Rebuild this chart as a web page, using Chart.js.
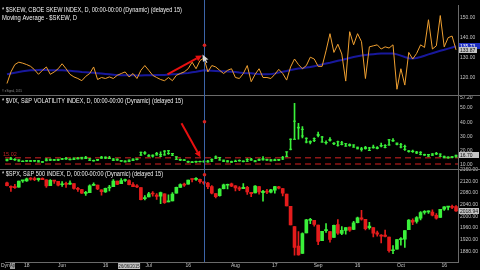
<!DOCTYPE html>
<html><head><meta charset="utf-8">
<script src="https://cdn.jsdelivr.net/npm/chart.js@4.4.1/dist/chart.umd.min.js"></script>
<style>html,body{margin:0;padding:0;background:#000;overflow:hidden}canvas{display:block}</style>
</head><body>
<canvas id="c" width="480" height="270"></canvas>
<script>
const dates = ['11/05/2015','12/05/2015','13/05/2015','14/05/2015','15/05/2015','18/05/2015','19/05/2015','20/05/2015','21/05/2015','22/05/2015','26/05/2015','27/05/2015','28/05/2015','29/05/2015',
'01/06/2015','02/06/2015','03/06/2015','04/06/2015','05/06/2015','08/06/2015','09/06/2015','10/06/2015','11/06/2015','12/06/2015','15/06/2015','16/06/2015','17/06/2015','18/06/2015','19/06/2015','22/06/2015','23/06/2015','24/06/2015','25/06/2015','26/06/2015','29/06/2015','30/06/2015',
'01/07/2015','02/07/2015','06/07/2015','07/07/2015','08/07/2015','09/07/2015','10/07/2015','13/07/2015','14/07/2015','15/07/2015','16/07/2015','17/07/2015','20/07/2015','21/07/2015','22/07/2015','23/07/2015','24/07/2015','27/07/2015','28/07/2015','29/07/2015','30/07/2015','31/07/2015',
'03/08/2015','04/08/2015','05/08/2015','06/08/2015','07/08/2015','10/08/2015','11/08/2015','12/08/2015','13/08/2015','14/08/2015','17/08/2015','18/08/2015','19/08/2015','20/08/2015','21/08/2015','24/08/2015','25/08/2015','26/08/2015','27/08/2015','28/08/2015','31/08/2015',
'01/09/2015','02/09/2015','03/09/2015','04/09/2015','08/09/2015','09/09/2015','10/09/2015','11/09/2015','14/09/2015','15/09/2015','16/09/2015','17/09/2015','18/09/2015','21/09/2015','22/09/2015','23/09/2015','24/09/2015','25/09/2015','28/09/2015','29/09/2015','30/09/2015',
'01/10/2015','02/10/2015','05/10/2015','06/10/2015','07/10/2015','08/10/2015','09/10/2015','12/10/2015','13/10/2015','14/10/2015','15/10/2015','16/10/2015','19/10/2015','20/10/2015','21/10/2015'];

const xTickDates = ['18/05/2015','01/06/2015','16/06/2015','01/07/2015','16/07/2015','03/08/2015','17/08/2015','01/09/2015','16/09/2015','01/10/2015','16/10/2015'];
const xTickNames = ['18','Jun','16','Jul','16','Aug','17','Sep','16','Oct','16'];

const skew = [117.0,122.8,126.5,127.7,127.2,126.5,125.6,123.9,121.6,123.6,
125.3,121.6,122.8,124.4,126.9,124.4,121.6,120.3,119.5,118.4,
120.6,122.0,125.3,119.0,120.0,119.5,120.3,119.5,121.1,122.0,
122.8,120.3,122.0,119.5,123.6,126.0,123.6,121.1,120.0,119.0,
118.4,120.0,118.4,121.1,122.0,122.8,124.4,127.7,124.4,128.5,
129.8,122.8,126.0,125.3,123.6,122.0,123.6,124.4,120.0,119.5,
122.0,126.0,117.9,121.6,124.4,120.0,120.0,119.5,121.6,124.1,
122.0,118.7,125.3,129.3,126.5,124.4,126.0,130.2,129.3,125.6,
125.6,133.4,142.0,132.6,136.7,131.8,118.2,143.0,136.4,142.0,
138.0,119.5,135.4,135.9,136.4,134.3,135.4,134.8,136.4,114.1,
124.4,116.2,132.6,129.3,132.1,136.4,135.1,149.0,134.3,135.9,
151.1,135.4,140.0,140.8,133.87];

const skewMA = [121.6,122.0,122.4,122.8,123.1,123.4,123.6,123.7,123.8,123.9,
123.8,123.7,123.6,123.6,123.6,123.5,123.4,123.2,123.0,122.8,
122.7,122.5,122.4,122.2,122.0,121.8,121.6,121.4,121.2,121.1,
121.1,121.1,121.1,121.0,121.0,121.1,121.1,121.1,121.2,121.2,
121.3,121.5,121.6,121.7,121.9,122.1,122.3,122.6,122.9,123.3,
123.6,123.5,123.4,123.3,123.2,123.1,123.0,122.9,122.8,122.5,
122.3,122.2,122.1,121.9,121.7,121.6,121.6,121.7,122.0,122.5,
122.9,123.3,123.8,124.2,124.5,124.7,125.0,125.3,125.7,126.1,
126.6,127.0,127.4,127.9,128.4,128.8,129.3,129.8,130.3,130.7,
131.0,131.3,131.5,131.7,131.9,132.0,132.1,132.1,132.1,131.6,
131.0,130.3,129.7,129.5,129.8,130.3,130.9,131.6,132.2,132.8,
133.4,133.9,134.5,135.1,135.73];

const vixOpen = [13.0,14.3,13.6,13.5,12.6,12.9,12.6,12.8,12.9,12.0,
13.0,13.9,13.6,13.3,14.2,14.4,14.0,13.8,14.6,14.3,
15.3,14.3,13.1,13.3,14.8,15.4,14.7,14.1,13.4,12.9,
12.7,12.3,13.1,14.0,16.9,18.5,16.7,16.2,18.0,17.3,
17.0,18.0,18.0,15.7,13.8,13.5,12.4,11.9,12.2,12.4,
12.6,12.1,12.7,14.7,15.2,13.3,12.8,12.0,12.4,12.9,
12.6,12.6,14.0,12.9,13.3,14.3,13.6,13.6,13.6,13.3,
14.2,16.0,21.0,28.0,36.4,35.0,28.7,26.3,27.1,30.6,
29.6,25.7,27.3,25.2,23.8,25.5,24.9,23.6,24.0,22.4,
21.1,21.5,21.9,22.1,21.6,23.4,22.3,24.0,27.2,25.3,
24.2,22.9,19.8,19.6,19.0,18.8,17.1,17.3,16.8,17.7,
17.6,16.0,15.5,15.3,15.7];
const vixHigh = [14.0,15.4,14.4,13.6,12.9,13.1,13.1,13.2,13.0,12.4,
14.4,14.0,13.9,14.1,14.6,15.3,14.2,14.9,15.4,15.3,
16.0,14.4,13.4,13.8,16.0,15.6,16.0,14.4,14.2,13.0,
12.8,13.5,14.2,14.2,19.0,19.4,17.2,17.0,18.8,19.2,
20.0,20.0,18.1,15.7,14.0,13.8,12.6,12.3,12.6,12.7,
12.9,13.2,14.2,16.3,15.3,13.4,13.0,12.6,13.4,13.5,
12.8,14.4,14.6,13.0,14.2,15.8,14.0,13.8,14.1,13.8,
16.0,19.2,28.4,53.3,39.3,37.0,29.1,26.9,29.1,33.0,
30.0,26.9,29.2,25.7,26.8,26.6,25.0,24.8,24.1,22.5,
22.3,23.1,22.3,24.0,22.9,25.3,24.2,27.9,28.5,25.4,
25.2,24.0,20.1,20.4,19.5,19.4,17.6,17.4,18.0,18.9,
17.8,16.2,15.6,15.8,16.9];
const vixLow = [12.8,13.6,13.1,12.6,12.2,12.5,12.4,12.4,12.1,11.8,
12.8,13.0,13.2,13.0,13.7,13.9,13.5,13.7,14.2,14.2,
14.4,13.2,12.6,13.0,14.6,14.3,14.4,13.0,13.2,12.5,
12.1,12.2,13.0,13.5,16.6,17.4,15.9,15.5,16.8,15.8,
16.8,17.3,16.5,13.8,13.0,12.9,11.8,11.6,11.8,12.0,
11.9,11.9,12.3,14.3,13.3,12.3,12.1,11.8,12.3,12.6,
12.0,12.5,13.2,12.2,13.0,13.4,13.1,12.8,12.9,13.0,
13.7,15.8,20.6,28.0,28.0,28.9,25.4,24.8,26.3,29.6,
25.9,24.5,26.6,24.3,23.2,24.1,23.1,23.2,22.4,21.2,
19.7,21.1,20.0,21.8,21.3,22.6,21.9,23.9,26.5,24.0,
21.9,20.2,18.9,18.7,17.9,17.0,16.7,16.0,16.6,17.2,
15.9,14.9,14.8,14.9,15.4];
const vixClose = [13.85,13.86,13.76,12.74,12.38,12.73,12.85,12.88,12.11,12.13,
14.06,13.27,13.31,13.84,14.06,14.24,13.66,14.71,14.21,15.29,
14.47,13.22,12.85,13.78,15.39,14.81,14.50,13.19,13.96,12.74,
12.11,13.26,14.01,14.02,18.85,18.23,16.09,16.79,17.01,16.09,
19.66,19.97,16.83,13.90,13.37,13.23,11.95,11.95,12.25,12.22,
12.12,12.64,13.74,15.60,13.44,12.50,12.13,12.12,12.56,13.00,
12.51,13.77,13.39,12.23,13.71,13.61,13.49,12.83,13.02,13.79,
15.25,19.14,28.03,40.74,36.02,30.32,26.10,26.05,28.43,31.40,
26.09,25.61,27.80,24.90,26.23,24.37,23.20,24.25,22.54,21.35,
21.14,22.28,20.14,22.44,22.13,23.47,23.62,27.63,26.83,24.50,
22.55,20.94,19.54,19.40,18.40,17.42,17.08,16.17,17.67,18.03,
16.05,15.05,14.98,15.75,16.70];
const vixLevels = [15.02, 10.6];

const spxOpen = [2115.0,2102.9,2099.6,2100.4,2122.1,2121.3,2129.5,2127.8,2125.6,2130.4,
2125.3,2105.1,2122.3,2120.7,2108.6,2110.4,2110.6,2112.4,2095.1,2092.3,
2079.1,2081.1,2106.2,2107.4,2091.3,2084.3,2097.4,2101.6,2121.1,2112.5,
2123.2,2123.2,2109.1,2102.6,2098.6,2061.2,2067.0,2078.0,2073.0,2069.5,
2077.7,2049.7,2052.7,2080.0,2099.7,2109.0,2110.6,2126.8,2126.9,2127.6,
2118.2,2114.2,2102.2,2078.2,2070.8,2094.7,2106.8,2111.6,2104.5,2097.7,
2095.3,2100.0,2082.6,2080.9,2102.7,2081.1,2086.2,2083.2,2089.7,2101.5,
2095.7,2076.6,2034.1,1965.2,1898.1,1872.8,1942.8,1986.1,1986.7,1970.1,
1916.5,1950.8,1947.8,1927.3,1971.5,1941.6,1951.5,1963.1,1955.1,1978.0,
1995.3,1989.7,1960.8,1961.4,1943.2,1934.8,1935.9,1929.2,1881.9,1887.1,
1919.7,1921.8,1954.3,1986.6,1982.3,1994.0,2013.7,2015.7,2015.0,2003.7,
1996.5,2024.4,2031.7,2033.1,2033.5];
const spxHigh = [2117.7,2105.1,2110.2,2121.5,2123.9,2131.8,2133.0,2134.7,2131.8,2132.2,
2125.3,2126.2,2122.3,2120.7,2119.2,2117.6,2121.9,2112.9,2100.0,2093.0,
2085.6,2108.5,2115.0,2107.4,2091.3,2097.4,2106.8,2126.7,2121.1,2129.9,
2128.0,2125.1,2116.0,2108.9,2098.6,2071.5,2082.8,2085.1,2078.6,2083.7,
2077.7,2074.3,2081.3,2100.7,2111.4,2114.1,2124.4,2128.9,2132.8,2128.4,
2118.5,2116.9,2106.0,2078.2,2095.6,2110.6,2110.5,2114.2,2105.7,2102.5,
2112.7,2103.3,2082.6,2105.4,2102.7,2089.1,2092.9,2092.5,2102.9,2103.5,
2096.2,2076.6,2034.1,1965.2,1948.0,1943.1,1989.6,1993.5,1986.7,1970.1,
1948.9,1975.0,1947.8,1970.4,1988.6,1965.3,1961.1,1963.1,1983.2,1997.3,
2020.9,1989.7,1979.6,1961.4,1949.5,1937.2,1952.9,1929.2,1899.5,1920.5,
1927.2,1951.4,1989.2,1991.6,1999.3,2016.5,2020.1,2018.7,2022.3,2009.6,
2024.2,2033.5,2034.5,2039.1,2037.0];
const spxLow = [2104.6,2085.6,2096.0,2100.4,2116.8,2120.0,2124.5,2122.6,2120.9,2126.1,
2099.2,2105.1,2112.9,2104.9,2102.5,2099.1,2109.6,2093.2,2085.7,2079.1,
2072.1,2081.1,2106.2,2091.3,2072.5,2082.1,2087.0,2101.6,2108.8,2112.5,
2119.9,2108.0,2102.0,2098.3,2056.6,2056.6,2067.0,2069.2,2058.4,2044.0,
2044.5,2049.7,2052.7,2080.0,2099.7,2102.5,2110.6,2118.5,2123.7,2114.2,
2110.0,2094.9,2077.1,2063.5,2069.1,2094.1,2094.1,2102.1,2087.3,2088.6,
2095.3,2075.5,2067.9,2080.9,2076.5,2052.1,2078.3,2080.6,2079.3,2094.1,
2070.5,2035.7,1970.9,1867.0,1867.1,1872.8,1942.8,1975.2,1966.0,1903.1,
1916.5,1944.7,1911.2,1927.3,1937.9,1937.2,1939.2,1948.3,1954.3,1977.9,
1986.7,1953.5,1955.8,1929.2,1932.4,1908.9,1929.8,1876.9,1871.9,1887.1,
1900.7,1893.7,1954.3,1971.2,1976.4,1987.5,2007.6,2010.3,2001.8,1990.7,
1996.5,2020.5,2022.3,2026.6,2017.2];
const spxClose = [2105.3,2099.1,2098.5,2121.1,2122.7,2129.2,2127.8,2125.9,2130.8,2126.1,
2104.2,2123.5,2120.8,2107.4,2111.7,2109.6,2114.1,2095.8,2092.8,2079.3,
2080.2,2105.2,2108.9,2094.1,2084.4,2096.3,2100.4,2121.2,2110.0,2122.9,
2124.2,2108.6,2102.3,2101.5,2057.6,2063.1,2077.4,2076.8,2068.8,2081.3,
2046.7,2051.3,2076.6,2099.6,2109.0,2107.4,2124.3,2126.6,2128.3,2119.2,
2114.2,2102.2,2079.7,2067.6,2093.3,2108.6,2108.6,2103.8,2098.0,2093.3,
2099.8,2083.6,2077.6,2104.2,2084.1,2086.1,2083.4,2091.5,2102.4,2096.9,
2079.6,2035.7,1970.9,1893.2,1867.6,1940.5,1987.7,1988.9,1972.2,1913.9,
1948.9,1951.1,1921.2,1969.4,1942.0,1952.3,1961.1,1953.0,1978.1,1995.3,
1990.2,1958.0,1967.0,1942.7,1938.8,1932.2,1931.3,1881.8,1884.1,1920.0,
1923.8,1951.4,1987.1,1979.9,1995.8,2013.4,2014.9,2017.5,2003.7,1994.2,
2023.9,2033.1,2033.7,2030.8,2018.94];

const skewTicks = [120, 130, 140, 150];
const vixTicks = [10, 20, 30, 40, 50, 57.2];
const spxTicks = [1880, 1920, 1960, 2000, 2040, 2080, 2120, 2160];

const cursorDate = '22/07/2015';
const cursorSkew = 136.2, cursorVix = 40.3, cursorSpx = 2143;
const arrowSkew = {from: [40.75, 121.6], to: [49.5, 131.0]};
const arrowVix = {from: [44.3, 39.2], to: [49.1, 15.4]};
const dateBox = {text: '26/06/2015', at: '24/06/2015'};

const F = "'Liberation Sans', Arial, sans-serif";
const GREEN = '#3af03a', RED = '#e41c1c', ORANGE = '#f0a030', MABLUE = '#18189c';
const spxColors = spxClose.map((c, i) => c >= spxOpen[i] ? GREEN : RED);

function line(ctx, x1, y1, x2, y2) { ctx.beginPath(); ctx.moveTo(x1, y1); ctx.lineTo(x2, y2); ctx.stroke(); }
function arrow(ctx, x1, y1, x2, y2) {
  const ang = Math.atan2(y2 - y1, x2 - x1), hl = 6, hw = 3.2;
  const bx = x2 - hl * Math.cos(ang), by = y2 - hl * Math.sin(ang);
  line(ctx, x1, y1, bx, by);
  ctx.beginPath(); ctx.moveTo(x2, y2);
  ctx.lineTo(bx - hw * Math.sin(ang), by + hw * Math.cos(ang));
  ctx.lineTo(bx + hw * Math.sin(ang), by - hw * Math.cos(ang));
  ctx.closePath(); ctx.fill();
}

const overlay = {
  id: 'overlay',
  beforeDraw(chart) {
    const c = chart.ctx; c.save(); c.fillStyle = '#000'; c.fillRect(0, 0, chart.width, chart.height); c.restore();
  },
  beforeDatasetsDraw(chart) {
    const {ctx, chartArea: a, scales} = chart;
    ctx.save();
    ctx.strokeStyle = '#8e1616'; ctx.lineWidth = 1.6; ctx.setLineDash([6, 4]);
    vixLevels.forEach(v => { const y = scales.yVix.getPixelForValue(v); line(ctx, a.left, y, a.right, y); });
    ctx.setLineDash([]);
    ctx.fillStyle = '#c02222'; ctx.font = '5.5px ' + F; ctx.textBaseline = 'bottom';
    ctx.fillText(vixLevels[0].toFixed(2), 3, scales.yVix.getPixelForValue(vixLevels[0]) - 1);
    ctx.restore();
  },
  afterDraw(chart) {
    const {ctx, chartArea: a, scales} = chart;
    const X = scales.x, S = scales.ySkew, V = scales.yVix, P = scales.ySpx;
    ctx.save();
    ctx.strokeStyle = '#6a6a6a'; ctx.lineWidth = 1;
    [S.bottom, V.bottom].forEach(y => { const yy = Math.round(y) + 0.5; line(ctx, 0, yy, chart.width, yy); });
    // crosshair
    const ci = dates.indexOf(cursorDate);
    const cx = Math.round(X.getPixelForValue(ci)) + 0.5;
    ctx.strokeStyle = '#3c64a8'; line(ctx, cx, 0, cx, a.bottom);
    ctx.fillStyle = '#d42424';
    [[S, cursorSkew], [V, cursorVix], [P, cursorSpx]].forEach(([sc, v]) => {
      ctx.beginPath(); ctx.arc(cx, sc.getPixelForValue(v), 1.8, 0, Math.PI * 2); ctx.fill();
    });
    // arrows
    ctx.strokeStyle = '#e81010'; ctx.fillStyle = '#e81010'; ctx.lineWidth = 2;
    arrow(ctx, X.getPixelForValue(arrowSkew.from[0]), S.getPixelForValue(arrowSkew.from[1]), X.getPixelForValue(arrowSkew.to[0]), S.getPixelForValue(arrowSkew.to[1]));
    arrow(ctx, X.getPixelForValue(arrowVix.from[0]), V.getPixelForValue(arrowVix.from[1]), X.getPixelForValue(arrowVix.to[0]), V.getPixelForValue(arrowVix.to[1]));
    // mouse pointer at arrow tip
    const tx = X.getPixelForValue(arrowSkew.to[0]) + 0.5, ty = S.getPixelForValue(arrowSkew.to[1]) - 1;
    ctx.fillStyle = '#d8d8d8';
    ctx.beginPath(); ctx.moveTo(tx, ty); ctx.lineTo(tx + 6, ty + 5); ctx.lineTo(tx + 3.5, ty + 5.2); ctx.lineTo(tx + 5, ty + 8); ctx.lineTo(tx + 4, ty + 8.5); ctx.lineTo(tx + 2.5, ty + 5.8); ctx.lineTo(tx + 0.5, ty + 7.5); ctx.closePath(); ctx.fill();
    // titles
    ctx.fillStyle = '#f2f2f2'; ctx.textBaseline = 'middle'; ctx.font = '6.5px ' + F;
    ctx.fillText('* $SKEW, CBOE SKEW INDEX, D, 00:00-00:00 (Dynamic) (delayed 15)', 2, S.top + 5, 180);
    ctx.fillText('Moving Average - $SKEW, D', 2, S.top + 13, 75);
    ctx.fillText('* $VIX, S&P VOLATILITY INDEX, D, 00:00-00:00 (Dynamic) (delayed 15)', 2, V.top + 5.5, 181);
    ctx.fillText('* $SPX, S&P 500 INDEX, D, 00:00-00:00 (Dynamic) (delayed 15)', 2, P.top + 5, 161);
    ctx.fillStyle = '#8a8a8a'; ctx.font = '4px ' + F;
    ctx.fillText('\u00a9 eSignal, 2015', 2, S.bottom - 4, 20);
    // value tags on right axis
    const tag = (txt, y, bg, fg, w) => {
      ctx.fillStyle = bg; ctx.fillRect(a.right + 1, Math.round(y) - 3, w, 6);
      ctx.fillStyle = fg; ctx.font = '5px ' + F; ctx.textBaseline = 'middle';
      ctx.fillText(txt, a.right + 2, Math.round(y) + 0.3, w - 2);
    };
    tag(skewMA[skewMA.length - 1].toFixed(2), S.getPixelForValue(skewMA[skewMA.length - 1]), '#2030c0', '#ffffff', 21);
    tag(skew[skew.length - 1].toFixed(2), S.getPixelForValue(skew[skew.length - 1]), '#c4c4c4', '#101010', 18);
    tag(vixClose[vixClose.length - 1].toFixed(2), V.getPixelForValue(vixClose[vixClose.length - 1]), '#c4c4c4', '#101010', 20);
    tag(spxClose[spxClose.length - 1].toFixed(2), P.getPixelForValue(spxClose[spxClose.length - 1]), '#c4c4c4', '#101010', 20);
    // bottom widgets
    const by = a.bottom + 4;
    ctx.font = '5px ' + F; ctx.textBaseline = 'middle';
    ctx.fillStyle = '#c8c8c8'; ctx.fillText('Dyn', 1, by);
    ctx.fillStyle = '#9a9a9a'; ctx.fillRect(10, by - 3, 5, 6);
    ctx.fillStyle = '#202020'; ctx.fillText('Ap', 10.3, by, 4.5);
    const dbx = X.getPixelForValue(dates.indexOf(dateBox.at));
    ctx.fillStyle = '#c4c4c4'; ctx.fillRect(dbx - 11, by - 3, 22, 6);
    ctx.fillStyle = '#202020'; ctx.textAlign = 'center'; ctx.fillText(dateBox.text, dbx, by + 0.3, 21);
    ctx.restore();
  }
};

const yBase = (ticksArr, min, max, weight) => ({
  type: 'linear', position: 'right', stack: 'panels', stackWeight: weight, min, max,
  grid: {display: false, drawTicks: false},
  border: {display: true, color: '#6a6a6a'},
  ticks: {autoSkip: false, color: '#c4c4c4', padding: 2, font: {size: 5, family: F}, callback: v => Number(v).toFixed(2)},
  afterBuildTicks: s => { s.ticks = ticksArr.map(v => ({value: v})); },
  afterFit: s => { s.width = 22; s.paddingTop = 0; s.paddingBottom = 0; }
});

new Chart(document.getElementById('c'), {
  type: 'bar',
  data: {
    labels: dates,
    datasets: [
      {type: 'line', label: '$SKEW', data: skew, yAxisID: 'ySkew', borderColor: ORANGE, borderWidth: 1, pointRadius: 0, tension: 0},
      {type: 'line', label: 'Moving Average', data: skewMA, yAxisID: 'ySkew', borderColor: MABLUE, borderWidth: 2, pointRadius: 0, tension: 0},
      {type: 'line', label: 'VIX open', data: vixOpen, yAxisID: 'yVix', showLine: false, pointStyle: 'line', pointRadius: 1.5, borderColor: GREEN, borderWidth: 1},
      {type: 'line', label: 'VIX close', data: vixClose, yAxisID: 'yVix', showLine: false, pointStyle: 'line', pointRadius: 1.5, borderColor: GREEN, borderWidth: 1},
      {type: 'bar', label: 'VIX range', data: vixLow.map((l, i) => [l, vixHigh[i]]), yAxisID: 'yVix', backgroundColor: GREEN, barThickness: 1, grouped: false},
      {type: 'bar', label: 'SPX body', data: spxOpen.map((o, i) => [o, spxClose[i]]), yAxisID: 'ySpx', backgroundColor: spxColors, barThickness: 3, minBarLength: 1, grouped: false},
      {type: 'bar', label: 'SPX range', data: spxLow.map((l, i) => [l, spxHigh[i]]), yAxisID: 'ySpx', backgroundColor: spxColors, barThickness: 1, grouped: false}
    ]
  },
  options: {
    responsive: false, animation: false, devicePixelRatio: 1,
    layout: {padding: 0},
    plugins: {legend: {display: false}, tooltip: {enabled: false}},
    scales: {
      x: {
        type: 'category', offset: true,
        grid: {display: false, drawTicks: false},
        border: {display: true, color: '#6a6a6a'},
        ticks: {autoSkip: false, maxRotation: 0, minRotation: 0, padding: 1, color: '#c4c4c4', font: {size: 5, family: F},
          callback: (v, i) => { const k = xTickDates.indexOf(dates[i]); return k >= 0 ? xTickNames[k] : ''; }},
        afterFit: s => { s.height = 8; s.paddingLeft = 0; s.paddingRight = 0; }
      },
      ySkew: yBase(skewTicks, 111.1, 156.4, 92),
      yVix: yBase(vixTicks, 7.24, 58.97, 75),
      ySpx: yBase(spxTicks, 1843.3, 2163.3, 95)
    }
  },
  plugins: [overlay]
});
</script>
</body></html>
